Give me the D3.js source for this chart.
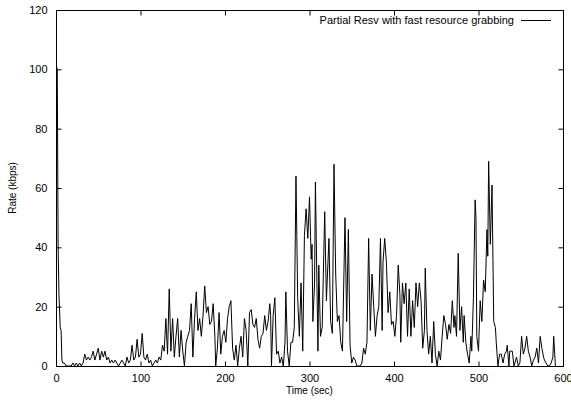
<!DOCTYPE html>
<html>
<head>
<meta charset="utf-8">
<script src="https://cdn.jsdelivr.net/npm/d3@7"></script>
<style>
  html, body { margin: 0; padding: 0; background: #fff; }
  svg { display: block; }
  text { font-family: "Liberation Sans", Arial, Helvetica, sans-serif; fill: #000; }
</style>
</head>
<body>
<svg id="chart" width="571" height="402"></svg>
<script>
const seriesName = "Partial Resv with fast resource grabbing";
const xLabel = "Time (sec)";
const yLabel = "Rate (kbps)";
const xTicks = [0, 100, 200, 300, 400, 500, 600];
const yTicks = [0, 20, 40, 60, 80, 100, 120];

const times = [0.5,1.5,2.5,3.5,5,6,7,8,10,12,14,16,18,20,22,24,26,28,30,32,34,36,38,40,42,44,46,48,50,52,54,56,58,60,62,64,66,68,70,72,74,76,78,80,82,84,86,88,90,92,94,96,98,100,102,104,106,108,110,112,114,116,118,120,122,124,126,128,130,132,134,136,138,140,142,144,146,148,150,152,154,156,158,160,162,164,166,168,170,172,174,176,178,180,182,184,186,188,189,191,193,195,197,199,201,203,205,207,209,211,213,215,217,219,221,223,225,227,229,231,233,235,237,239,241,243,245,247,249,251,253,254,255,257,259,261,263,265,267,269,271,272,274,276,278,280,282,284,285,286,288,290,292,294,296,298,300,302,303,304,306,307,308,310,311,313,315,318,320,323,325,327,329,331,333,335,337,339,342,344,346,348,350,352,354,356,358,360,362,364,366,368,370,372,374,376,378,380,382,384,386,387,389,391,393,395,397,399,401,403,405,407,408,410,412,414,416,418,420,422,424,426,428,430,432,434,436,437,439,441,443,445,447,449,451,453,455,457,459,461,463,465,467,469,471,472,474,476,478,480,482,483,485,487,489,491,492,494,496,497,498,500,502,504,506,508,510,511,512,514,516,518,520,521,523,525,527,529,531,533,534,536,537,540,542,544,545,547,549,551,553,555,557,559,561,563,565,567,569,571,573,575,577,578,580,582,584,586,588,589,591];
const rates = [101,100,40,24,13,12,2,1,1,0,0,0,0,1,0,1,0,1,0,1,4,2,3,2,3,5,2,4,6,2,5,3,5,2,3,1,2,1,2,1,0,1,2,1,0,3,1,2,7,2,3,9,3,4,11,3,2,4,1,2,0,1,2,1,3,2,7,5,16,4,26,5,16,3,10,16,3,12,5,0,8,10,12,21,3,16,25,12,16,10,17,27,18,20,14,15,21,10,0,6,18,4,10,12,8,16,20,22,6,2,7,0,6,10,3,16,12,0,18,19,14,13,16,9,6,10,11,17,12,15,21,17,0,17,23,4,5,1,3,0,8,25,5,0,8,8,13,64,44,23,10,28,5,44,53,43,57,36,41,15,28,62,43,5,34,10,13,52,22,43,15,11,68,31,15,17,8,5,50,15,46,7,1,3,2,0,0,0,1,6,4,8,43,12,31,20,10,17,20,43,12,35,43,35,18,25,14,15,10,17,34,24,8,28,21,28,10,26,10,22,13,28,20,28,22,6,12,33,12,4,10,1,15,4,0,5,2,10,17,14,9,14,11,22,13,17,10,38,12,20,8,17,8,4,1,10,5,23,56,50,10,5,22,15,29,25,46,37,69,41,61,15,13,8,0,4,4,1,4,5,7,0,5,5,0,2,3,0,1,10,4,6,10,5,3,0,2,3,6,1,10,6,3,2,1,0,0,1,3,10,0];

const svg = d3.select("#chart");
const W = 571, H = 402;
const m = { left: 56, right: 8, top: 10, bottom: 36 };
const x0 = m.left, x1 = W - m.right, y0 = H - m.bottom, y1 = m.top;

const x = d3.scaleLinear().domain([0, 600]).range([x0, x1]);
const y = d3.scaleLinear().domain([0, 120]).range([y0, y1]);

const data = times.map((t, i) => ({ t, v: rates[i] }));

// data line
const line = d3.line().x(d => x(d.t)).y(d => y(d.v));
svg.append("path")
  .datum(data)
  .attr("d", line)
  .attr("fill", "none")
  .attr("stroke", "#000")
  .attr("stroke-width", 1)
  .attr("stroke-linejoin", "miter");

// frame
svg.append("rect")
  .attr("x", x0 + 0.5).attr("y", y1 + 0.5)
  .attr("width", x1 - x0 - 1 + 1).attr("height", y0 - y1)
  .attr("fill", "none").attr("stroke", "#000").attr("stroke-width", 1);

const tickLen = 5;
// bottom axis (inward ticks)
const xb = d3.axisBottom(x).tickValues(xTicks).tickSize(-tickLen).tickPadding(8).tickFormat(d3.format("d"));
const gxb = svg.append("g").attr("transform", `translate(0,${y0 + 0.5})`).call(xb);
// top axis mirrored ticks
const xt = d3.axisTop(x).tickValues(xTicks).tickSize(-tickLen).tickFormat("");
const gxt = svg.append("g").attr("transform", `translate(0,${y1 + 0.5})`).call(xt);
// left axis
const yl = d3.axisLeft(y).tickValues(yTicks).tickSize(-tickLen).tickPadding(9).tickFormat(d3.format("d"));
const gyl = svg.append("g").attr("transform", `translate(${x0 + 0.5},0)`).call(yl);
// right axis mirrored
const yr = d3.axisRight(y).tickValues(yTicks).tickSize(-tickLen).tickFormat("");
const gyr = svg.append("g").attr("transform", `translate(${x1 + 0.5},0)`).call(yr);

[gxb, gxt, gyl, gyr].forEach(g => {
  g.select(".domain").remove();
  g.selectAll(".tick line").attr("stroke", "#000");
  g.selectAll("text").style("font-family", '"Liberation Sans", Arial, sans-serif').style("font-size", "11px").attr("fill", "#000");
});

// axis labels
svg.append("text")
  .attr("x", (x0 + x1) / 2).attr("y", 394)
  .attr("text-anchor", "middle")
  .style("font-size", "10px")
  .text(xLabel);
svg.append("text")
  .attr("transform", `translate(16,${(y0 + y1) / 2}) rotate(-90)`)
  .attr("text-anchor", "middle")
  .style("font-size", "10px")
  .text(yLabel);

// legend
svg.append("text")
  .attr("x", 514).attr("y", 24)
  .attr("text-anchor", "end")
  .style("font-size", "11px")
  .text(seriesName);
svg.append("line")
  .attr("x1", 521).attr("x2", 551)
  .attr("y1", 20.5).attr("y2", 20.5)
  .attr("stroke", "#000").attr("stroke-width", 1);
</script>
</body>
</html>
